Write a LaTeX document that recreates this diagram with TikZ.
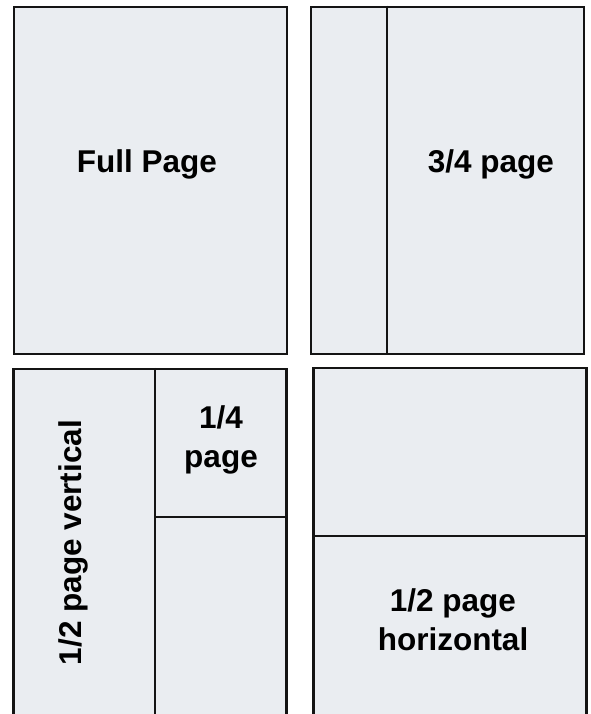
\documentclass[tikz,border=0pt]{standalone}
\usepackage{fontspec}
\setmainfont{Liberation Sans}
\usepackage{tikz}
\usetikzlibrary{positioning,calc}
\usepackage{xcolor}
\definecolor{panelfill}{RGB}{234,237,241}
\definecolor{panelline}{RGB}{20,20,20}
\tikzset{
    % Page panels
    panel/.style={
        rectangle,
        draw=panelline,
        line width=2.5pt,
        fill=panelfill,
        minimum width=273pt,
        minimum height=347pt,
        inner sep=0pt
    },
    % Split lines inside a panel
    splitline/.style={
        draw=panelline,
        line width=2pt
    },
    % Labels
    sizelabel/.style={
        font=\fontsize{31.5}{39}\selectfont\bfseries,
        text=black,
        align=center,
        inner sep=0pt
    }
}
\begin{document}
\begin{tikzpicture}[x=1pt,y=1pt]

    % Frame
    \fill[white] (0,0) rectangle (590,-714);
    \clip (0,0) rectangle (590,-714);

    % Top row
    \node[panel] (fullpage) at (150.5,-180.5) {};
    \node[sizelabel, anchor=base] (fulltext) at (147,-173) {Full Page};

    \node[panel] (threeq) at (447.5,-180.5) {};
    \coordinate (tqsplit) at ($(threeq.north west)!0.28!(threeq.north east)$);
    \draw[splitline] (tqsplit) -- (tqsplit |- threeq.south);
    \node[sizelabel, anchor=base] (threeqtext) at (491,-173) {3/4 page};

    % Bottom row
    \node[panel] (halfvert) at (150,-542.5) {};
    \coordinate (hvsplit) at ($(halfvert.north west)!0.518!(halfvert.north east)$);
    \coordinate (qsplit) at ($(halfvert.north east)!0.427!(halfvert.south east)$);
    \draw[splitline] (hvsplit) -- (hvsplit |- halfvert.south);
    \draw[splitline] (hvsplit |- qsplit) -- (qsplit);
    \node[sizelabel, rotate=90] (halfverttext) at (73,-542.5) {1/2 page vertical};
    \node[sizelabel] (quartertext) at (221,-440) {1/4\\page};

    \node[panel] (halfhor) at (450,-541.5) {};
    \coordinate (hhsplit) at ($(halfhor.north west)!0.484!(halfhor.south west)$);
    \draw[splitline] (hhsplit) -- (hhsplit -| halfhor.east);
    \node[sizelabel] (halfhortext) at (453,-620) {1/2 page\\horizontal};

\end{tikzpicture}
\end{document}
